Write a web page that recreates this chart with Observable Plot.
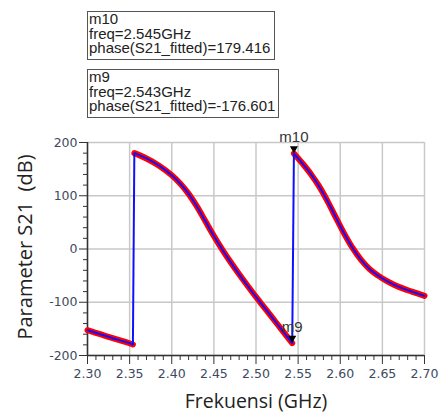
<!DOCTYPE html>
<html><head><meta charset="utf-8">
<script src="https://cdn.jsdelivr.net/npm/d3@7"></script>
<script src="https://cdn.jsdelivr.net/npm/@observablehq/plot@0.6"></script>
<style>
body{margin:0;background:#fff;}
#head{position:relative;width:443px;height:130px;}
.box{position:absolute;border:1.5px solid #555;font-family:"Liberation Sans",Arial,sans-serif;font-size:15px;line-height:14.5px;color:#222;padding:0 0 0 1px;box-sizing:border-box;background:#fff;white-space:pre;}
</style></head><body>
<div id="head"></div>
<div id="chart"></div>
<script>
// Segment data (frequency in GHz, phase in degrees)
const freqA = [2.300, 2.315, 2.330, 2.345, 2.3539];
const phaseA = [-152.5, -160, -167.5, -174.5, -179.4];

const freqB = [2.3556, 2.370, 2.385, 2.400, 2.410, 2.420, 2.430, 2.440, 2.450, 2.460, 2.470, 2.480, 2.490, 2.500, 2.510, 2.520, 2.530, 2.543];
const phaseB = [180, 170, 156.5, 138.5, 123, 103.5, 79.5, 52, 24.5, -1, -25, -47.5, -69, -90, -110.2, -130.4, -150.5, -176.6];

const freqC = [2.545, 2.555, 2.565, 2.575, 2.585, 2.595, 2.605, 2.615, 2.625, 2.635, 2.645, 2.655, 2.665, 2.675, 2.685, 2.700];
const phaseC = [179.4, 161, 141, 117.5, 89.5, 58.5, 28, 1, -21, -38, -50, -60, -68, -74.5, -80, -88];

// Markers
const markerNames = ["m10", "m9"];
const markerFreqs = [2.545, 2.543];
const markerPhases = [179.416, -176.601];
const markerFreqLabels = ["2.545GHz", "2.543GHz"];
const markerPhaseLabels = ["179.416", "-176.601"];

// Ticks
const xTicks = [2.30, 2.35, 2.40, 2.45, 2.50, 2.55, 2.60, 2.65, 2.70];
const xTickLabels = ["2.30", "2.35", "2.40", "2.45", "2.50", "2.55", "2.60", "2.65", "2.70"];
const yTicks = [-200, -100, 0, 100, 200];
const yTickLabels = ["-200", "-100", "0", "100", "200"];

const xTitle = "Frekuensi (GHz)";
const yTitle = "Parameter S21  (dB)";

// marker boxes
const head = document.getElementById("head");
const boxPos = [{left: 87, top: 11, width: 188, height: 49}, {left: 87, top: 69, width: 192, height: 49}];
markerNames.forEach((n, i) => {
  const d = document.createElement("div");
  d.className = "box";
  Object.assign(d.style, {left: boxPos[i].left + "px", top: boxPos[i].top + "px", width: boxPos[i].width + "px", height: boxPos[i].height + "px"});
  d.textContent = `${n}\nfreq=${markerFreqLabels[i]}\nphase(S21_fitted)=${markerPhaseLabels[i]}`;
  head.appendChild(d);
});

const segs = [[freqA, phaseA], [freqB, phaseB], [freqC, phaseC]];
const rows = segs.flatMap(([f, p], s) => f.map((x, j) => ({seg: s, freq: x, phase: p[j]})));
const jumps = segs.slice(0, -1).map(([f, p], s) => ({
  x1: f[f.length - 1], y1: p[p.length - 1],
  x2: segs[s + 1][0][0], y2: segs[s + 1][1][0]
}));
const markers = markerNames.map((n, i) => ({name: n, freq: markerFreqs[i], phase: markerPhases[i]}));

const minorX = d3.range(230, 271).map(v => v / 100).filter(v => !xTicks.some(t => Math.abs(t - v) < 1e-6));
const minorY = d3.range(-200, 201, 20).filter(v => !yTicks.includes(v));

const tickColor = "#3d4a5e";
const chart = Plot.plot({
  width: 443, height: 283,
  marginLeft: 87, marginRight: 19, marginTop: 12, marginBottom: 58,
  style: {fontFamily: "DejaVu Sans", fontSize: "12.5px", color: tickColor, background: "white", overflow: "visible"},
  x: {domain: [2.30, 2.70]},
  y: {domain: [-200, 200]},
  marks: [
    Plot.gridX(xTicks, {stroke: "#c8c8c8", strokeOpacity: 1, strokeWidth: 1.5}),
    Plot.gridY(yTicks, {stroke: "#c8c8c8", strokeOpacity: 1, strokeWidth: 1.5}),
    Plot.axisX(minorX, {tickSize: 5, tickFormat: () => "", stroke: "#333"}),
    Plot.axisY(minorY, {tickSize: 4, tickFormat: () => "", stroke: "#333"}),
    Plot.axisX(xTicks, {tickSize: 9, tickPadding: 5, tickFormat: (d, i) => xTickLabels[i], stroke: "#333", fill: tickColor, label: null}),
    Plot.axisY(yTicks, {tickSize: 8, tickPadding: 2, tickFormat: (d, i) => yTickLabels[i], stroke: "#333", fill: tickColor, label: null}),
    Plot.ruleX([2.30], {stroke: "#333", strokeWidth: 1.5}),
    Plot.ruleY([-200], {stroke: "#333", strokeWidth: 1.5}),
    Plot.line(rows, {x: "freq", y: "phase", z: "seg", stroke: "#ff0000", strokeWidth: 6, curve: "catmull-rom"}),
    Plot.link(jumps, {x1: "x1", y1: "y1", x2: "x2", y2: "y2", stroke: "#1010ff", strokeWidth: 2}),
    Plot.line(rows, {x: "freq", y: "phase", z: "seg", stroke: "#1010ff", strokeWidth: 2, curve: "catmull-rom"}),
    Plot.dot(markers, {x: "freq", y: "phase", symbol: "triangle", rotate: 180, r: 3, fill: "black", stroke: null, dy: -5}),
    Plot.text(markers, {x: "freq", y: "phase", text: "name", dy: -16, fontSize: 15, fontFamily: "Liberation Sans", fill: "#333"}),
    Plot.text([yTitle], {frameAnchor: "left", textAnchor: "middle", rotate: -90, dx: -62, dy: -2, fontSize: 20, fontFamily: "Open Sans", fill: "#222"}),
    Plot.text([xTitle], {frameAnchor: "bottom", lineAnchor: "bottom", dy: 52, fontSize: 19.5, fontFamily: "Open Sans", fill: "#222"})
  ]
});
document.getElementById("chart").appendChild(chart);
</script>
</body></html>
